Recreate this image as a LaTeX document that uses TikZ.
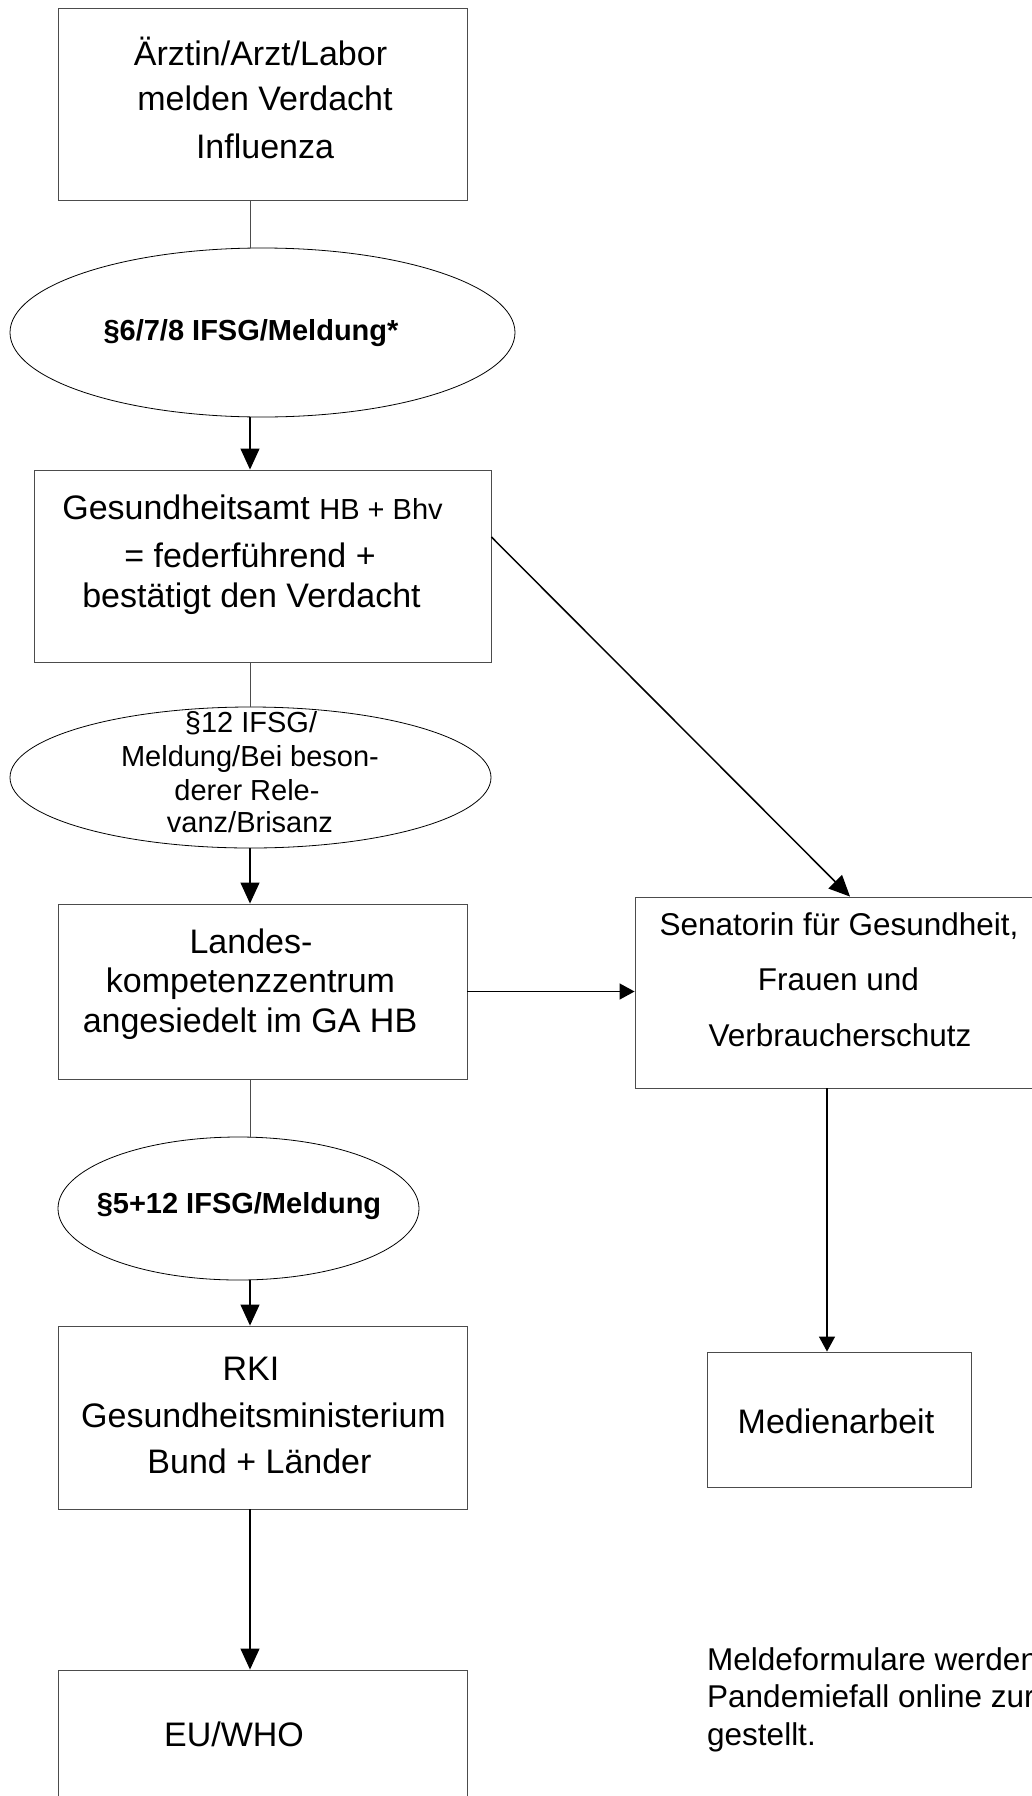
\documentclass[tikz,border=0pt]{standalone}
\usepackage{fontspec}
\setmainfont{Liberation Sans}
\usetikzlibrary{shapes.geometric,arrows.meta}
\definecolor{boxline}{gray}{0.3}
\tikzset{
  boxnode/.style={draw=boxline, line width=0.9pt, rectangle, inner sep=0pt},
  ellnode/.style={draw=black, line width=0.8pt, ellipse, inner sep=0pt},
  txt/.style={anchor=base, inner sep=0pt, font=\fontsize{34}{40}\selectfont},
  txtsen/.style={anchor=base, inner sep=0pt, font=\fontsize{31.5}{38}\selectfont},
  txtell/.style={anchor=base, inner sep=0pt, font=\fontsize{29}{34}\selectfont},
  txtbold/.style={anchor=base, inner sep=0pt, font=\fontsize{29}{34}\selectfont\bfseries},
  txtnote/.style={anchor=base west, inner sep=0pt, font=\fontsize{31.5}{37}\selectfont},
  link/.style={line width=1pt, draw=black!70},
  arr/.style={-{Triangle[length=21pt,width=19pt]}, line width=1.2pt, draw=black},
  arrs/.style={-{Triangle[length=15pt,width=16pt]}, line width=1.4pt, draw=black},
}
\begin{document}
\begin{tikzpicture}[x=1pt,y=-1pt]
\useasboundingbox (0,0) rectangle (1032,1796);
\clip (0,0) rectangle (1032,1796);
\fill[white] (0,0) rectangle (1032,1796);

% boxes
\node[boxnode, minimum width=409pt, minimum height=192pt] (b1) at (262.5,104) {};
\node[boxnode, minimum width=457pt, minimum height=192pt] (b2) at (262.5,566) {};
\node[boxnode, minimum width=409pt, minimum height=175pt] (b3) at (262.5,991.5) {};
\node[boxnode, minimum width=409pt, minimum height=183pt] (b4) at (262.5,1417.5) {};
\node[boxnode, minimum width=409pt, minimum height=183pt] (b5) at (262.5,1761.5) {};
\node[boxnode, minimum width=409pt, minimum height=191pt] (sen) at (839.5,992.5) {};
\node[boxnode, minimum width=264pt, minimum height=135pt] (med) at (839,1419.5) {};

% ellipses
\node[ellnode, minimum width=505pt, minimum height=169pt] (e1) at (262.5,332.5) {};
\node[ellnode, minimum width=481pt, minimum height=141pt] (e2) at (250.5,777.5) {};
\node[ellnode, minimum width=361pt, minimum height=143pt] (e3) at (238.5,1208.5) {};

% texts
\node[txt] (t1a) at (260.5,65) {Ärztin/Arzt/Labor};
\node[txt] (t1b) at (265,110) {melden Verdacht};
\node[txt] (t1c) at (265,158) {Influenza};

\node[txtbold] (te1) at (251,340) {§6/7/8 IFSG/Meldung*};

\node[txt] (t2a) at (252.5,519) {Gesundheitsamt {\fontsize{29}{34}\selectfont HB + Bhv}};
\node[txt] (t2b) at (250,567) {= federführend +};
\node[txt] (t2c) at (251.5,607) {bestätigt den Verdacht};

\node[txtell] (te2a) at (251,732) {§12 IFSG/};
\node[txtell] (te2b) at (250,766) {Meldung/Bei beson-};
\node[txtell] (te2c) at (247,800) {derer Rele-};
\node[txtell] (te2d) at (250,832) {vanz/Brisanz};

\node[txt] (t3a) at (251,953) {Landes-};
\node[txt] (t3b) at (250.5,992) {kompetenzzentrum};
\node[txt] (t3c) at (250,1032) {angesiedelt im GA HB};

\node[txtbold] (te3) at (239,1213) {§5+12 IFSG/Meldung};

\node[txt] (t4a) at (251,1380) {RKI};
\node[txt] (t4b) at (263.5,1427) {Gesundheitsministerium};
\node[txt] (t4c) at (259.5,1473) {Bund + Länder};

\node[txt] (t5) at (234,1746) {EU/WHO};

\node[txtsen] (ts1) at (839,935) {Senatorin für Gesundheit,};
\node[txtsen] (ts2) at (838.5,990) {Frauen und};
\node[txtsen] (ts3) at (840,1046) {Verbraucherschutz};

\node[txt] (tm) at (836,1433) {Medienarbeit};

\node[txtnote] (n1) at (707,1670) {Meldeformulare werden};
\node[txtnote] (n2) at (707,1707) {Pandemiefall online zur};
\node[txtnote] (n3) at (707,1745) {gestellt.};

% connectors
\coordinate (cx) at (250,0);
\coordinate (mx) at (827,0);
\draw[link] (b1.south -| cx) -- (e1.north -| cx);
\draw[arr] (e1.south -| cx) -- (b2.north -| cx);
\draw[link] (b2.south -| cx) -- (e2.north -| cx);
\draw[arr] (e2.south -| cx) -- (b3.north -| cx);
\draw[link] (b3.south -| cx) -- (e3.north -| cx);
\draw[arr] (e3.south -| cx) -- (b4.north -| cx);
\draw[arr] (b4.south -| cx) -- (b5.north -| cx);
\draw[arr, line width=1.5pt] ([yshift=29pt]b2.east) -- ([xshift=10.5pt]sen.north);
\draw[arrs] (b3.east) -- (b3.east -| sen.west);
\draw[arrs] (sen.south -| mx) -- (med.north -| mx);
\end{tikzpicture}
\end{document}
